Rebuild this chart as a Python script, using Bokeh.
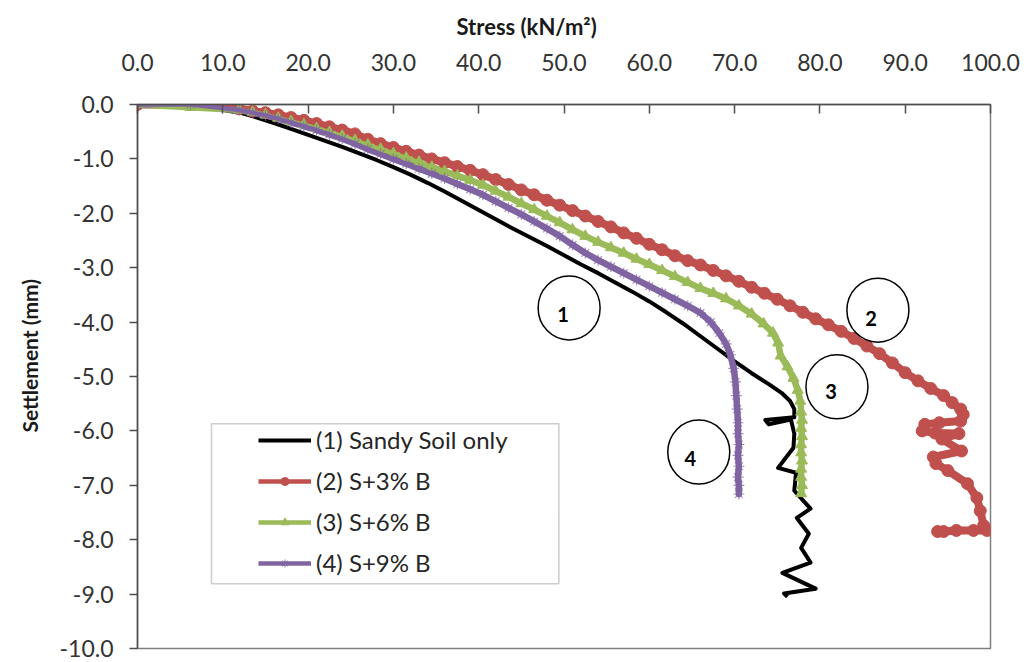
from bokeh.plotting import figure
from bokeh.models import (Range1d, FixedTicker, NumeralTickFormatter, Legend, LegendItem,
                          BoxAnnotation, Title)
from bokeh.core.properties import value
from bokeh.embed import file_html
from bokeh.resources import INLINE

# ---------------- data ----------------
series_names = ["(1) Sandy Soil only", "(2) S+3% B", "(3) S+6% B", "(4) S+9% B"]

soil_x = [0, 6.2, 12, 14, 16, 18, 20, 22, 24, 26, 28, 30, 32, 34, 36, 38, 40, 42, 44, 46, 48,
          50, 52, 54, 56, 58, 60, 62, 64, 66, 68, 70, 72, 74, 75.5, 76.5, 77.0, 77.0, 73.6, 74.0,
          76.6, 77.0, 76.9, 75.1, 77.2, 77.0, 78.9, 77.3, 78.7, 77.8, 78.9, 75.6, 79.5, 75.8, 76.2]
soil_y = [0, 0, -0.15, -0.24, -0.34, -0.45, -0.56, -0.67, -0.78, -0.9, -1.02, -1.15, -1.29, -1.44,
          -1.6, -1.77, -1.94, -2.11, -2.28, -2.44, -2.6, -2.77, -2.94, -3.1, -3.27, -3.44, -3.62,
          -3.82, -4.03, -4.26, -4.49, -4.72, -4.94, -5.14, -5.3, -5.45, -5.6, -5.75, -5.8, -5.88,
          -5.79, -6.05, -6.31, -6.68, -6.77, -7.1, -7.43, -7.6, -7.89, -8.15, -8.42, -8.61, -8.9,
          -8.99, -9.05]

b3_x = [0, 6.2, 11.9, 13.5, 15, 16.5, 18, 19.5, 21, 22.5, 24, 25.5, 27, 28.5, 30, 31.5, 33, 34.5,
        36, 37.5, 39, 40.5, 42, 43.5, 45, 46.5, 48, 49.5, 51, 52.5, 54, 55.5, 57, 58.5, 60, 61.5,
        63, 64.5, 66, 67.5, 69, 70.5, 72, 73.5, 75, 76.5, 78, 79.5, 81, 82.5, 84, 85.5, 87, 88.5,
        90, 91.5, 93, 94.5, 95.5, 96.5, 96.8, 96.5, 94.0, 92.3, 92.0, 93.5, 96.3, 94.3, 96.6,
        93.3, 93.6, 95.0, 97.3, 98.4, 98.8, 99.2, 99.6, 98.0, 96.0, 94.5, 93.8]
b3_y = [0, 0, -0.08, -0.12, -0.15, -0.19, -0.24, -0.29, -0.35, -0.41, -0.47, -0.54, -0.64, -0.72,
        -0.79, -0.86, -0.93, -1.0, -1.07, -1.14, -1.21, -1.29, -1.38, -1.47, -1.57, -1.66, -1.76,
        -1.85, -1.95, -2.05, -2.15, -2.25, -2.36, -2.46, -2.57, -2.67, -2.78, -2.87, -2.95, -3.05,
        -3.15, -3.25, -3.36, -3.47, -3.58, -3.7, -3.82, -3.94, -4.05, -4.17, -4.3, -4.44, -4.58,
        -4.75, -4.93, -5.08, -5.22, -5.35, -5.48, -5.6, -5.7, -5.82, -5.85, -5.88, -6.0, -6.04,
        -6.05, -6.15, -6.37, -6.48, -6.6, -6.73, -6.97, -7.23, -7.47, -7.74, -7.83, -7.83, -7.83,
        -7.85, -7.85]

b6_x = [0, 6.2, 11.9, 13.5, 15, 16.5, 18, 19.5, 21, 22.5, 24, 25.5, 27, 28.5, 30, 31.5, 33, 34.5,
        36, 37.5, 39, 40.5, 42, 43.5, 45, 46.5, 48, 49.5, 51, 52.5, 54, 55.5, 57, 58.5, 60, 61.5,
        63, 64.5, 66, 67.5, 69, 70.5, 72, 73.4, 74.5, 75.1, 75.4, 76.2, 76.9, 77.4, 77.7, 77.8,
        77.9, 77.8, 77.9, 77.8, 77.8, 77.9, 77.8, 77.8, 77.9, 77.8]
b6_y = [0, -0.05, -0.1, -0.14, -0.19, -0.25, -0.31, -0.37, -0.44, -0.51, -0.58, -0.66, -0.74,
        -0.82, -0.9, -0.98, -1.06, -1.15, -1.23, -1.31, -1.39, -1.48, -1.59, -1.7, -1.82, -1.93,
        -2.05, -2.17, -2.3, -2.42, -2.53, -2.63, -2.73, -2.84, -2.94, -3.05, -3.16, -3.27, -3.38,
        -3.47, -3.57, -3.7, -3.85, -4.03, -4.2, -4.38, -4.62, -4.82, -5.03, -5.25, -5.45, -5.65,
        -5.8, -5.95, -6.1, -6.25, -6.4, -6.55, -6.7, -6.85, -7.0, -7.15]

b9_x = [0, 6.2, 11.9, 13.5, 15, 16.5, 18, 19.5, 21, 22.5, 24, 25.5, 27, 28.5, 30, 31.5, 33, 34.5,
        36, 37.5, 39, 40.5, 42, 43.5, 45, 46.5, 48, 49.5, 51, 52.5, 54, 55.5, 57, 58.5, 60, 61.5,
        63, 64.5, 66, 67.2, 68.2, 69.0, 69.5, 69.9, 70.1, 70.2, 70.3, 70.4, 70.4, 70.5, 70.4,
        70.5, 70.4, 70.5, 70.5]
b9_y = [0, 0, -0.1, -0.15, -0.2, -0.26, -0.33, -0.4, -0.47, -0.55, -0.63, -0.72, -0.82, -0.91,
        -1.0, -1.09, -1.18, -1.27, -1.36, -1.46, -1.56, -1.66, -1.78, -1.9, -2.02, -2.15, -2.28,
        -2.42, -2.58, -2.73, -2.86, -2.98, -3.1, -3.22, -3.34, -3.46, -3.58, -3.7, -3.83, -4.0,
        -4.2, -4.4, -4.6, -4.85, -5.1, -5.35, -5.6, -5.85, -6.05, -6.25, -6.45, -6.65, -6.85,
        -7.0, -7.16]

x_ticks = [0, 10, 20, 30, 40, 50, 60, 70, 80, 90, 100]
y_ticks = [0, -1, -2, -3, -4, -5, -6, -7, -8, -9, -10]

note_text = ["1", "2", "3", "4"]
note_cx = [50.6, 86.8, 82.0, 65.8]
note_cy = [-3.74, -3.78, -5.19, -6.39]
note_tx = [49.9, 86.0, 81.3, 64.8]
note_ty = [-3.86, -3.94, -5.28, -6.5]

# ---------------- figure ----------------
FONT = "Lato"
p = figure(width=1027, height=662, output_backend="svg", toolbar_location=None,
           x_range=Range1d(0, 100), y_range=Range1d(-10, 0), x_axis_location="above",
           min_border_left=136, min_border_right=37, min_border_top=103, min_border_bottom=14,
           background_fill_color="white", border_fill_color="white")
p.grid.visible = False
p.outline_line_color = "#7f7f7f"
p.outline_line_width = 1.5

# x-axis title as plot title (placed above the top axis)
p.title = Title(text="Stress (kN/m²)", align="left", offset=319, text_font=FONT,
                text_font_style="bold", text_font_size="22px", text_color="#1a1a1a",
                standoff=21)
p.title_location = "above"

xa = p.xaxis[0]
xa.ticker = FixedTicker(ticks=x_ticks)
xa.formatter = NumeralTickFormatter(format="0.0")
xa.major_tick_in = 9
xa.major_tick_out = 0
xa.minor_tick_in = 0
xa.minor_tick_out = 0
xa.major_label_standoff = 34
ya = p.yaxis[0]
ya.ticker = FixedTicker(ticks=y_ticks)
ya.formatter = NumeralTickFormatter(format="0.0")
ya.major_tick_in = 0
ya.major_tick_out = 8
ya.minor_tick_in = 0
ya.minor_tick_out = 0
ya.major_label_standoff = 16
for ax in (xa, ya):
    ax.axis_line_color = "#4d4d4d"
    ax.axis_line_width = 1.5
    ax.major_tick_line_color = "#4d4d4d"
    ax.major_tick_line_width = 1.5
    ax.major_label_text_font = FONT
    ax.major_label_text_font_size = "23px"
    ax.major_label_text_color = "#333333"

# y-axis title on the left side
ytitle = Title(text="Settlement (mm)", align="left", offset=216, text_font=FONT,
               text_font_style="bold", text_font_size="21px", text_color="#1a1a1a",
               standoff=29)
p.add_layout(ytitle, "left")

# legend frame (drawn first, below legend)
box = BoxAnnotation(left=8.67, right=49.4, top=-5.87, bottom=-8.81,
                    fill_color="white", fill_alpha=1.0, line_color="#595959", line_width=1.5)
p.add_layout(box)

black = "#000000"
red = "#C0504D"
green = "#9BBB59"
purple = "#8064A2"

r1 = p.line(soil_x, soil_y, line_color=black, line_width=4, line_join="round")

# thick bands (the dense marker trails of the original)
p.line(b3_x, b3_y, line_color=red, line_width=8, line_join="round", line_cap="round")
p.line(b6_x, b6_y, line_color=green, line_width=6.5, line_join="round", line_cap="round")
p.line(b9_x, b9_y, line_color=purple, line_width=6.5, line_join="round", line_cap="round")

# series lines (thinner, used as legend keys) and markers
k2 = p.line(b3_x, b3_y, line_color=red, line_width=4.5, line_join="round")
r2m = p.scatter(b3_x, b3_y, marker="circle", size=12, fill_color=red, line_color=red)

k3 = p.line(b6_x, b6_y, line_color=green, line_width=4.5, line_join="round")
r3m = p.scatter(b6_x, b6_y, marker="triangle", size=11, fill_color=green, line_color=green)

k4 = p.line(b9_x, b9_y, line_color=purple, line_width=4.5, line_join="round")
r4m = p.scatter(b9_x, b9_y, marker="asterisk", size=11, line_color=purple, line_alpha=0.7,
                line_width=1.2)

legend = Legend(items=[
    LegendItem(label=series_names[0], renderers=[r1]),
    LegendItem(label=series_names[1], renderers=[k2, r2m]),
    LegendItem(label=series_names[2], renderers=[k3, r3m]),
    LegendItem(label=series_names[3], renderers=[k4, r4m]),
], location=(111, 61), orientation="vertical", padding=10, margin=0, spacing=12,
    glyph_width=53, glyph_height=20, label_height=20, label_standoff=5,
    border_line_alpha=0, background_fill_alpha=0,
    label_text_font=FONT, label_text_font_size="24px", label_text_color="#262626")
p.add_layout(legend)

# numbered circles
p.ellipse(x=note_cx, y=note_cy, width=62, height=64, width_units="screen",
          height_units="screen", fill_color=None, line_color="black", line_width=1.5)
p.text(x=note_tx, y=note_ty, text=note_text, text_font=value(FONT), text_font_style="bold",
       text_font_size="20px", text_align="center", text_baseline="middle", text_color="black")

open("out.html", "w").write(file_html(p, INLINE))
